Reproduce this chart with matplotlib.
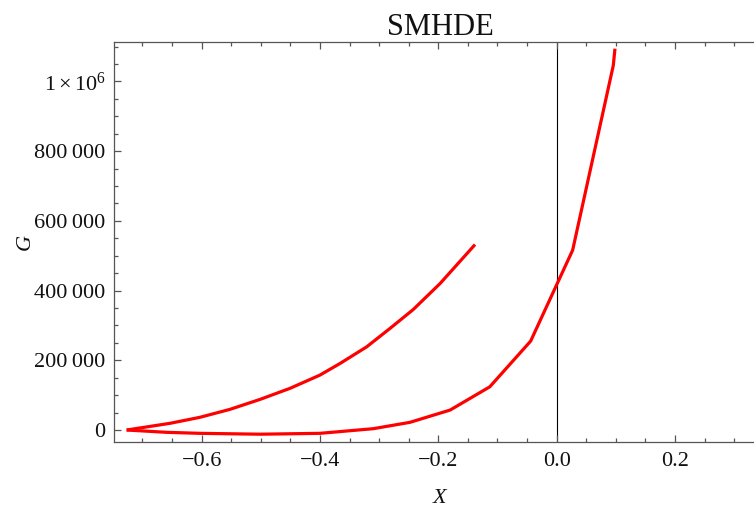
import matplotlib
matplotlib.use("Agg")
import matplotlib.pyplot as plt
from matplotlib.ticker import MultipleLocator, FixedLocator, FuncFormatter

plt.rcParams["font.family"] = ["Liberation Serif", "DejaVu Serif"]
plt.rcParams["mathtext.fontset"] = "custom"
plt.rcParams["mathtext.rm"] = "Liberation Serif"
plt.rcParams["mathtext.it"] = "Liberation Serif:italic"

# Upper branch of the G(X) curve
x_upper = [-0.7267, -0.6535, -0.603, -0.552, -0.501, -0.4507, -0.400,
           -0.366, -0.321, -0.2817, -0.2423, -0.197, -0.138]
g_upper = [0, 19200, 36400, 59300, 88000, 119500, 157600,
           191000, 238700, 291400, 345800, 420300, 532000]

# Lower branch of the G(X) curve
x_lower = [-0.7267, -0.659, -0.603, -0.501, -0.400, -0.310, -0.248,
           -0.180, -0.113, -0.044, 0.027, 0.0957, 0.0985]
g_lower = [0, -6600, -9500, -12000, -9500, 3800, 22000,
           57300, 124000, 255000, 516000, 1046000, 1094000]

title = "SMHDE"
xlabel = "X"
ylabel = "G"
x_major = [-0.6, -0.4, -0.2, 0.0, 0.2]
y_major = [0, 200000, 400000, 600000, 800000, 1000000]


def g_fmt(v, pos):
    v = int(round(v))
    if v == 1000000:
        return r"$1\times10^{6}$"
    if v == 0:
        return "0"
    return f"{v:,}".replace(",", "\u2009")


fig = plt.figure(figsize=(7.54, 5.08), dpi=100)
# the frame runs slightly past the right edge of the canvas
ax = fig.add_axes([0.1512, 0.1299, 0.8647, 0.7884])

red = "#ff0000"
ax.plot(x_upper, g_upper, color=red, lw=2.3, solid_joinstyle="round",
        solid_capstyle="butt")
ax.plot(x_lower, g_lower, color=red, lw=2.3, solid_joinstyle="round",
        solid_capstyle="butt")

ax.axvline(0.0, color="black", lw=0.8, zorder=1)

ax.set_xlim(-0.748, 0.3537)
ax.set_ylim(-34400, 1114600)

frame = "#555555"
for side in ("left", "bottom", "top", "right"):
    ax.spines[side].set_color(frame)
    ax.spines[side].set_linewidth(0.9)

ax.xaxis.set_major_locator(FixedLocator(x_major))
ax.xaxis.set_minor_locator(MultipleLocator(0.05))
ax.yaxis.set_major_locator(FixedLocator(y_major))
ax.yaxis.set_minor_locator(MultipleLocator(50000))
ax.xaxis.set_major_formatter(FuncFormatter(lambda v, p: f"{v:.1f}".replace("-", "\u2212")))
ax.yaxis.set_major_formatter(FuncFormatter(g_fmt))

ax.tick_params(which="both", direction="in", top=True, right=True,
               color=frame, width=0.9, labelsize=16, labelcolor="#111111")
ax.tick_params(which="major", length=5)
ax.tick_params(which="minor", length=3)
ax.tick_params(axis="x", which="major", pad=7)
ax.tick_params(axis="y", which="major", pad=6)

ax.set_title(title, fontsize=22, pad=5, color="#111111")
ax.set_xlabel(xlabel, fontsize=16, style="italic", labelpad=13, color="#111111")
ax.set_ylabel(ylabel, fontsize=16, style="italic", labelpad=0, color="#111111")

fig.savefig("out.png", dpi=100)
